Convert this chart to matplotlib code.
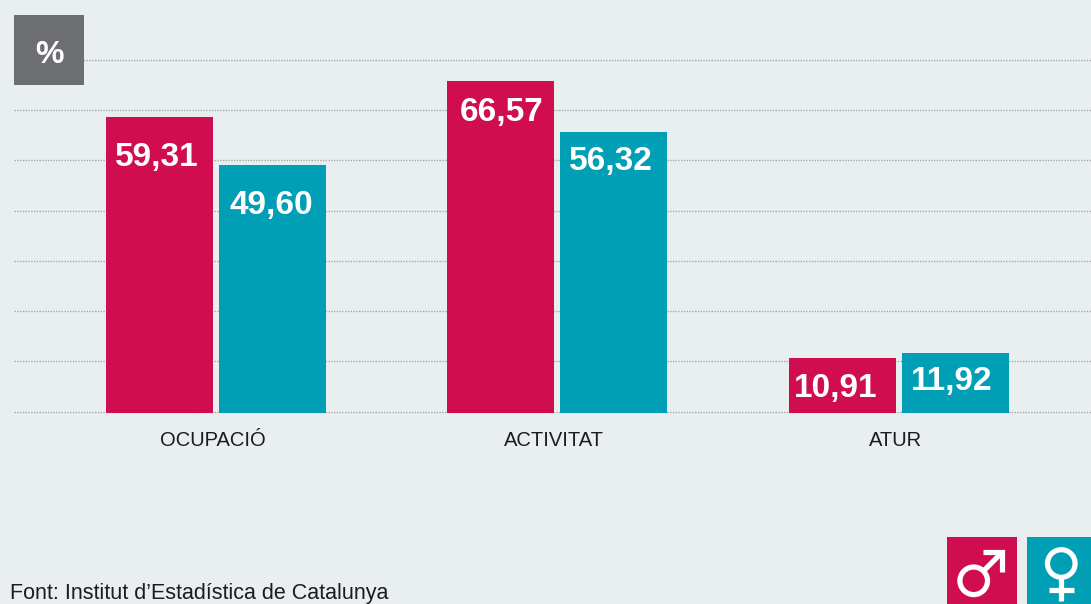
import matplotlib
matplotlib.use("Agg")
import matplotlib.pyplot as plt
from matplotlib.patches import Rectangle, Circle
from matplotlib.lines import Line2D
from matplotlib.transforms import ScaledTranslation
import numpy as np

categories = ["OCUPACIÓ", "ACTIVITAT", "ATUR"]
homes = [59.31, 66.57, 10.91]
dones = [49.60, 56.32, 11.92]
source = "Font: Institut d’Estadística de Catalunya"

W, H = 1091, 604
BG, RED, TEAL, GREY = "#e9eef1", "#d00d4f", "#009fb5", "#6d6e71"
BOLD = "Liberation Sans"
PX = 0.72  # points per pixel at dpi 100

fig = plt.figure(figsize=(W / 100, H / 100), dpi=100, facecolor=BG)
SCALE = 4.99  # pixels per percentage point
TOP = 58.0
BASE = 412.7
UNIT = 341.15
ax = fig.add_axes([14 / W, (H - BASE - 5) / H, (W - 14) / W, (BASE + 5 - TOP) / H])
ax.set_facecolor("none")
ax.set_ylim(-5 / SCALE, (BASE - TOP) / SCALE)
ax.set_xlim((14 - 216.2) / UNIT, (W - 216.2) / UNIT)
for s in ax.spines.values():
    s.set_visible(False)
ax.set_yticks(0.2 + np.arange(8) * 10.07)
ax.set_yticklabels([])
ax.tick_params(axis="both", length=0)
ax.grid(axis="y", color="#a6a8aa", lw=1.0, ls=(0, (1, 1)), zorder=0)
ax.set_axisbelow(True)

x = np.arange(len(categories))
bw, off = 107 / UNIT, 56.5 / UNIT
b1 = ax.bar(x - off, homes, bw, color=RED, zorder=2)
b2 = ax.bar(x + off, dones, bw, color=TEAL, zorder=2)
ax.set_xticks(x)
ax.set_xticklabels(categories, fontsize=14.5, color="#1c1c1c", family="Liberation Sans")
ax.tick_params(axis="x", pad=9.8)
shift = ScaledTranslation(-3 / 100, 0, fig.dpi_scale_trans)
for t in ax.get_xticklabels():
    t.set_transform(t.get_transform() + shift)

dy_h = [-41, -32, -30]
dy_d = [-40, -30, -28]
dx_h = [-2.5, 0.5, -6.5]
dx_d = [-1.5, -2.5, -3.5]
fmt = lambda v: f"{v:.2f}".replace(".", ",")
for bars, vals, dys, dxs in ((b1, homes, dy_h, dx_h), (b2, dones, dy_d, dx_d)):
    for r, v, dy, dx in zip(bars, vals, dys, dxs):
        ax.annotate(fmt(v), (r.get_x() + r.get_width() / 2, v), xytext=(dx * PX, dy * PX),
                    textcoords="offset points", ha="center", va="center", color="white",
                    fontsize=24, fontweight="bold", family=BOLD, zorder=3)

# overlay in pixel coordinates for furniture
ov = fig.add_axes([0, 0, 1, 1], zorder=5)
ov.set_xlim(0, W); ov.set_ylim(H, 0); ov.axis("off"); ov.patch.set_visible(False)
ov.add_patch(Rectangle((14, 15), 70, 70, color=GREY, lw=0))
ov.text(49, 55, "%", color="white", fontsize=23, fontweight="bold", family="Liberation Sans", ha="center", va="center")
ov.text(10, 603.5, source, fontsize=15.5, color="#1c1c1c", family="Liberation Sans", va="bottom", ha="left")

ov.add_patch(Rectangle((947, 537), 70, 67, color=RED, lw=0))
ov.add_patch(Rectangle((1027, 537), 64, 67, color=TEAL, lw=0))
lw = 5.2 * PX
ov.add_patch(Circle((973.7, 580.8), 13.8, fc="none", ec="white", lw=lw))
ov.add_line(Line2D([983, 1001], [571.5, 553.5], color="white", lw=lw, solid_capstyle="butt"))
ov.add_line(Line2D([983, 1002.4, 1002.4], [552.2, 552.2, 571.7], color="white", lw=lw, solid_joinstyle="miter", solid_capstyle="butt"))
ov.add_patch(Circle((1061.3, 563.5), 13.8, fc="none", ec="white", lw=lw))
ov.add_line(Line2D([1061.3, 1061.3], [578, 601], color="white", lw=lw, solid_capstyle="butt"))
ov.add_line(Line2D([1049, 1074], [589.7, 589.7], color="white", lw=lw, solid_capstyle="butt"))

fig.savefig("out.png", dpi=100, facecolor=BG)
